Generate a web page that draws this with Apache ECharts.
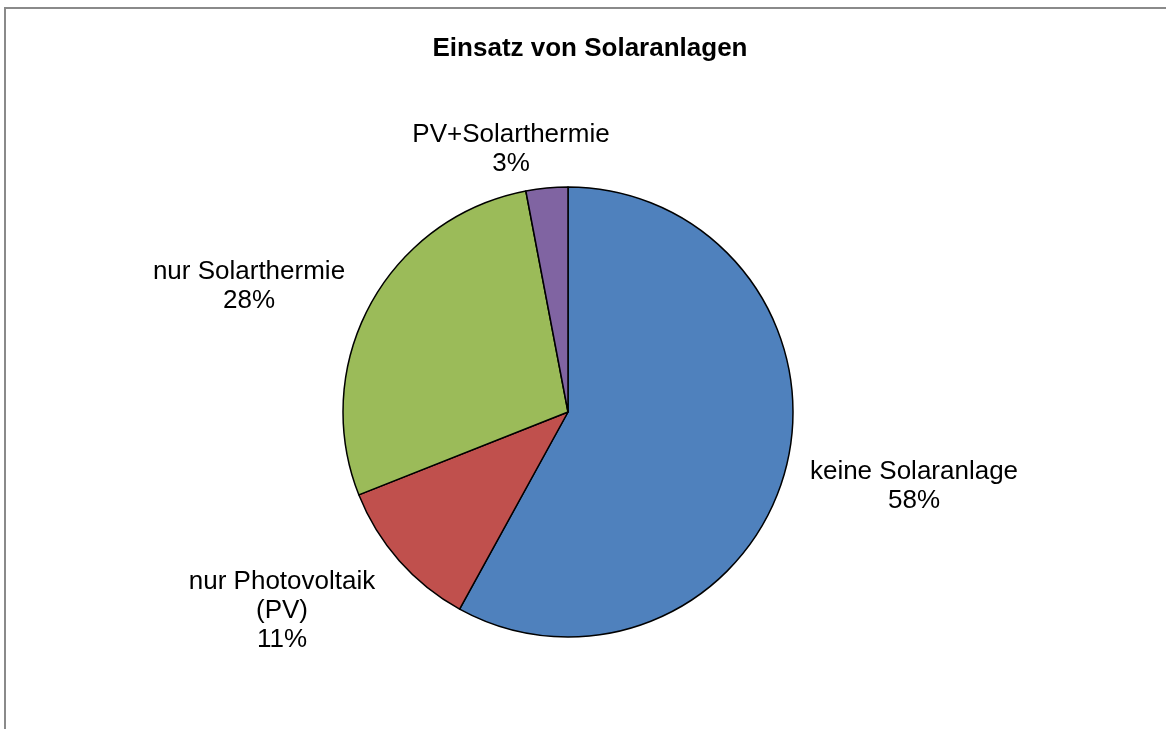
<!DOCTYPE html>
<html>
<head>
<meta charset="utf-8">
<script src="https://cdn.jsdelivr.net/npm/echarts@6/dist/echarts.min.js"></script>
<style>
  html, body { margin: 0; padding: 0; background: #fff; }
  #main { width: 1166px; height: 729px; }
</style>
</head>
<body>
<div id="main"></div>
<script>
var categories = ['keine Solaranlage', 'nur Photovoltaik\n(PV)', 'nur Solarthermie', 'PV+Solarthermie'];
var values = [58, 11, 28, 3];
var colors = ['#4F81BD', '#C0504D', '#9BBB59', '#8064A2'];
// label centres (layout only)
var labelPos = [[914, 486], [282, 611], [249, 286], [511, 149]];

var chartDom = document.getElementById('main');
var myChart = echarts.init(chartDom);
var option;

option = {
    animation: false,
    title: {
        text: 'Einsatz von Solaranlagen',
        left: 585,
        top: 31,
        textAlign: 'center',
        textStyle: {
            fontFamily: 'Liberation Sans, Arial',
            fontSize: 26,
            fontWeight: 'bold',
            color: '#000'
        }
    },
    graphic: [{
        type: 'rect',
        shape: { x: 5, y: 8, width: 1300, height: 900 },
        style: { fill: 'none', stroke: '#8a8a8a', lineWidth: 2 },
        silent: true
    }],
    series: [{
        type: 'pie',
        center: [568, 412],
        radius: 225,
        startAngle: 90,
        clockwise: true,
        itemStyle: {
            borderColor: '#000',
            borderWidth: 1.5
        },
        label: {
            show: true,
            position: 'outside',
            formatter: function (p) { return p.name + '\n' + p.value + '%'; },
            fontFamily: 'Liberation Sans, Arial',
            fontSize: 26,
            lineHeight: 29,
            color: '#000',
            align: 'center'
        },
        labelLine: { show: false },
        labelLayout: function (params) {
            var pos = labelPos[params.dataIndex];
            return { x: pos[0], y: pos[1], align: 'center', verticalAlign: 'middle' };
        },
        emphasis: { disabled: true },
        data: categories.map(function (c, i) {
            return { name: c, value: values[i], itemStyle: { color: colors[i] } };
        })
    }]
};

option && myChart.setOption(option);
</script>
</body>
</html>
